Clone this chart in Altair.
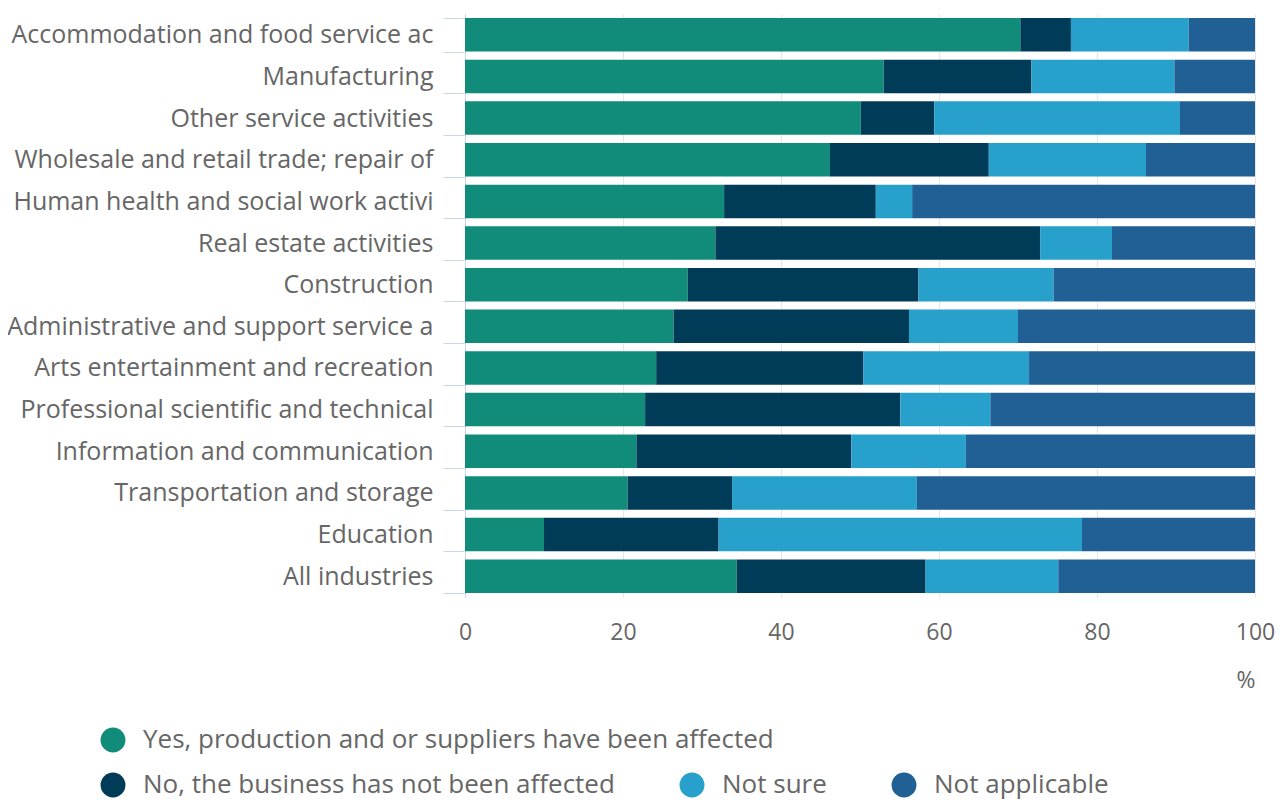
import altair as alt
import pandas as pd

industries = [
    "Accommodation and food service ac",
    "Manufacturing",
    "Other service activities",
    "Wholesale and retail trade; repair of",
    "Human health and social work activi",
    "Real estate activities",
    "Construction",
    "Administrative and support service a",
    "Arts entertainment and recreation",
    "Professional scientific and technical ",
    "Information and communication",
    "Transportation and storage",
    "Education",
    "All industries",
]

responses = [
    "Yes, production and or suppliers have been affected",
    "No, the business has not been affected",
    "Not sure",
    "Not applicable",
]
colors = ["#118c7b", "#003c57", "#27a0cc", "#206095"]

yes_vals = [70.3, 53.0, 50.1, 46.2, 32.8, 31.7, 28.2, 26.4, 24.2, 22.8, 21.7, 20.6, 10.0, 34.4]
no_vals = [6.4, 18.7, 9.3, 20.1, 19.2, 41.1, 29.2, 29.8, 26.2, 32.3, 27.2, 13.2, 22.1, 23.9]
unsure_vals = [14.9, 18.1, 31.1, 19.9, 4.6, 9.1, 17.1, 13.8, 21.0, 11.4, 14.5, 23.4, 46.0, 16.8]
na_vals = [8.4, 10.2, 9.5, 13.8, 43.4, 18.1, 25.5, 30.0, 28.6, 33.5, 36.6, 42.8, 21.9, 24.9]

rows = []
for i, ind in enumerate(industries):
    for j, (resp, vals) in enumerate(zip(responses, [yes_vals, no_vals, unsure_vals, na_vals])):
        rows.append({"industry": ind, "response": resp, "value": vals[i], "order": j})
df = pd.DataFrame(rows)

FONT = "Open Sans"
LABEL_COLOR = "#666666"
FS_X = 23
FS_Y = 25
FS_LEG = 26

base = alt.Chart(df).transform_stack(
    stack="value",
    groupby=["industry"],
    as_=["x0", "x1"],
    sort=[alt.SortField("order", order="ascending")],
)

y_enc = alt.Y(
    "industry:N",
    sort=industries,
    scale=alt.Scale(paddingInner=0.195, paddingOuter=0.0975),
    axis=alt.Axis(
        title=None,
        labelFont=FONT,
        labelFontSize=FS_Y,
        labelColor=LABEL_COLOR,
        labelLimit=1000,
        labelPadding=10,
        domainColor="#ccd6eb",
        tickColor="#ccd6eb",
        tickSize=22,
        tickBand="extent",
        grid=False,
    ),
)

x_enc = alt.X(
    "x0:Q",
    scale=alt.Scale(domain=[0, 100], nice=False, zero=True),
    axis=alt.Axis(
        title="%",
        values=[0, 20, 40, 60, 80, 100],
        labelFont=FONT,
        labelFontSize=FS_X,
        labelColor=LABEL_COLOR,
        labelPadding=24,
        labelFlush=False,
        ticks=False,
        tickSize=0,
        domain=False,
        grid=True,
        gridColor="#e6e6e6",
        gridWidth=1,
        titleFont=FONT,
        titleFontSize=FS_X,
        titleFontWeight="normal",
        titleColor=LABEL_COLOR,
        titleAnchor="end",
        titleAlign="right",
        titlePadding=25,
    ),
)

legend_common = dict(
    title=None,
    orient="none",
    direction="horizontal",
    symbolType="circle",
    symbolSize=620,
    symbolStrokeWidth=0,
    labelFont=FONT,
    labelFontSize=FS_LEG,
    labelColor=LABEL_COLOR,
    labelLimit=1000,
    labelOffset=17,
    columnPadding=64,
)

yes_layer = base.transform_filter(
    alt.datum.response == responses[0]
).mark_bar().encode(
    y=y_enc,
    x=x_enc,
    x2="x1:Q",
    color=alt.Color(
        "response:N",
        scale=alt.Scale(domain=responses[:1], range=colors[:1]),
        legend=alt.Legend(legendX=-365, legendY=713, **legend_common),
    ),
)

other_layer = base.transform_filter(
    alt.datum.response != responses[0]
).mark_bar().encode(
    y=alt.Y("industry:N", sort=industries),
    x="x0:Q",
    x2="x1:Q",
    fill=alt.Fill(
        "response:N",
        scale=alt.Scale(domain=responses[1:], range=colors[1:]),
        legend=alt.Legend(legendX=-365, legendY=758, **legend_common),
    ),
)

chart = alt.layer(yes_layer, other_layer).properties(
    width=790,
    height=583,
    autosize=alt.AutoSizeParams(type="none"),
    padding={"left": 457, "top": 6, "right": 20, "bottom": 205},
    background="white",
).configure_view(stroke=None)

chart.save("out.html", embed_options={"renderer": "svg", "actions": False})
